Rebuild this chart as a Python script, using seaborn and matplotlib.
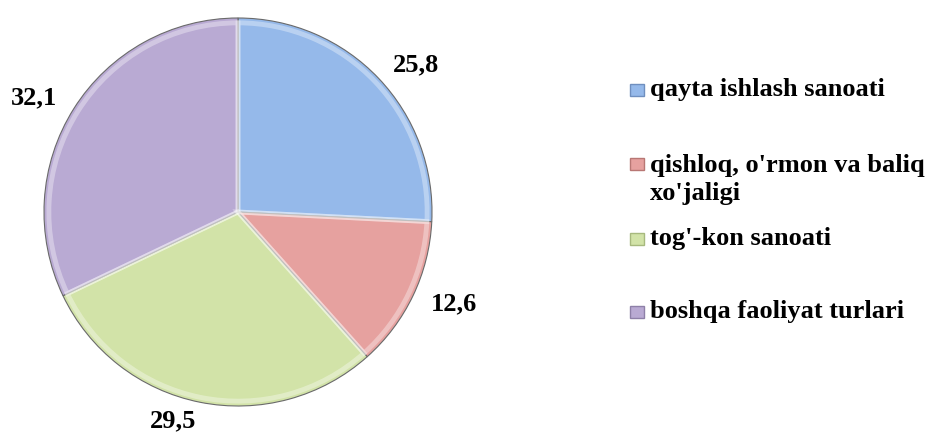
import matplotlib
matplotlib.use("Agg")
import matplotlib.pyplot as plt
import matplotlib.patches as mpatches
import seaborn as sns

categories = ["qayta ishlash sanoati",
              "qishloq, o'rmon va baliq\nxo'jaligi",
              "tog'-kon sanoati",
              "boshqa faoliyat turlari"]
values = [25.8, 12.6, 29.5, 32.1]
value_labels = ["25,8", "12,6", "29,5", "32,1"]
colors = ["#95B9EA", "#E6A19F", "#D2E3A8", "#B9AAD3"]
edge_colors = ["#6F8FBF", "#B87774", "#A7B97E", "#8E80A8"]

sns.set_style("white")
plt.rcParams["font.family"] = ["Liberation Serif", "DejaVu Serif"]
plt.rcParams["font.weight"] = "bold"
plt.rcParams["text.color"] = "black"

W, H = 929, 441
fig = plt.figure(figsize=(W / 100, H / 100), dpi=100)
cx, cy, R = 238, 212, 194
ax = fig.add_axes([(cx - R) / W, (H - cy - R) / H, 2 * R / W, 2 * R / H])

pal = sns.color_palette(colors)
wedges, texts = ax.pie(values, labels=value_labels, colors=pal, startangle=90,
                       counterclock=False, labeldistance=1.10, radius=1.0,
                       wedgeprops=dict(edgecolor="#6A6A6A", linewidth=0.8),
                       textprops=dict(fontsize=19, fontweight="bold",
                                      color="black"))
# bevel highlight
ax.pie(values, colors=["none"] * 4, startangle=90, counterclock=False,
       radius=0.975,
       wedgeprops=dict(edgecolor="white", linewidth=3.5, alpha=0.35,
                       fill=False))
ax.set_xlim(-1.0, 1.0)
ax.set_ylim(-1.0, 1.0)
ax.set_aspect("equal")
ax.axis("off")

# legend
line_step = 30
baselines = [96, 170, 245, 318]
for lab, col, ec, b in zip(categories, colors, edge_colors, baselines):
    fig.patches.append(mpatches.Rectangle((630 / W, (H - b) / H), 14 / W, 12 / H,
                                          transform=fig.transFigure,
                                          facecolor=col, edgecolor=ec,
                                          linewidth=1.0))
    nlines = lab.count("\n") + 1
    fig.text(650 / W, (H - b - (nlines - 1) * line_step) / H, lab,
             fontsize=19, fontweight="bold", color="black",
             va="baseline", ha="left", linespacing=1.3)

fig.savefig("out.png", dpi=100, facecolor="white")
